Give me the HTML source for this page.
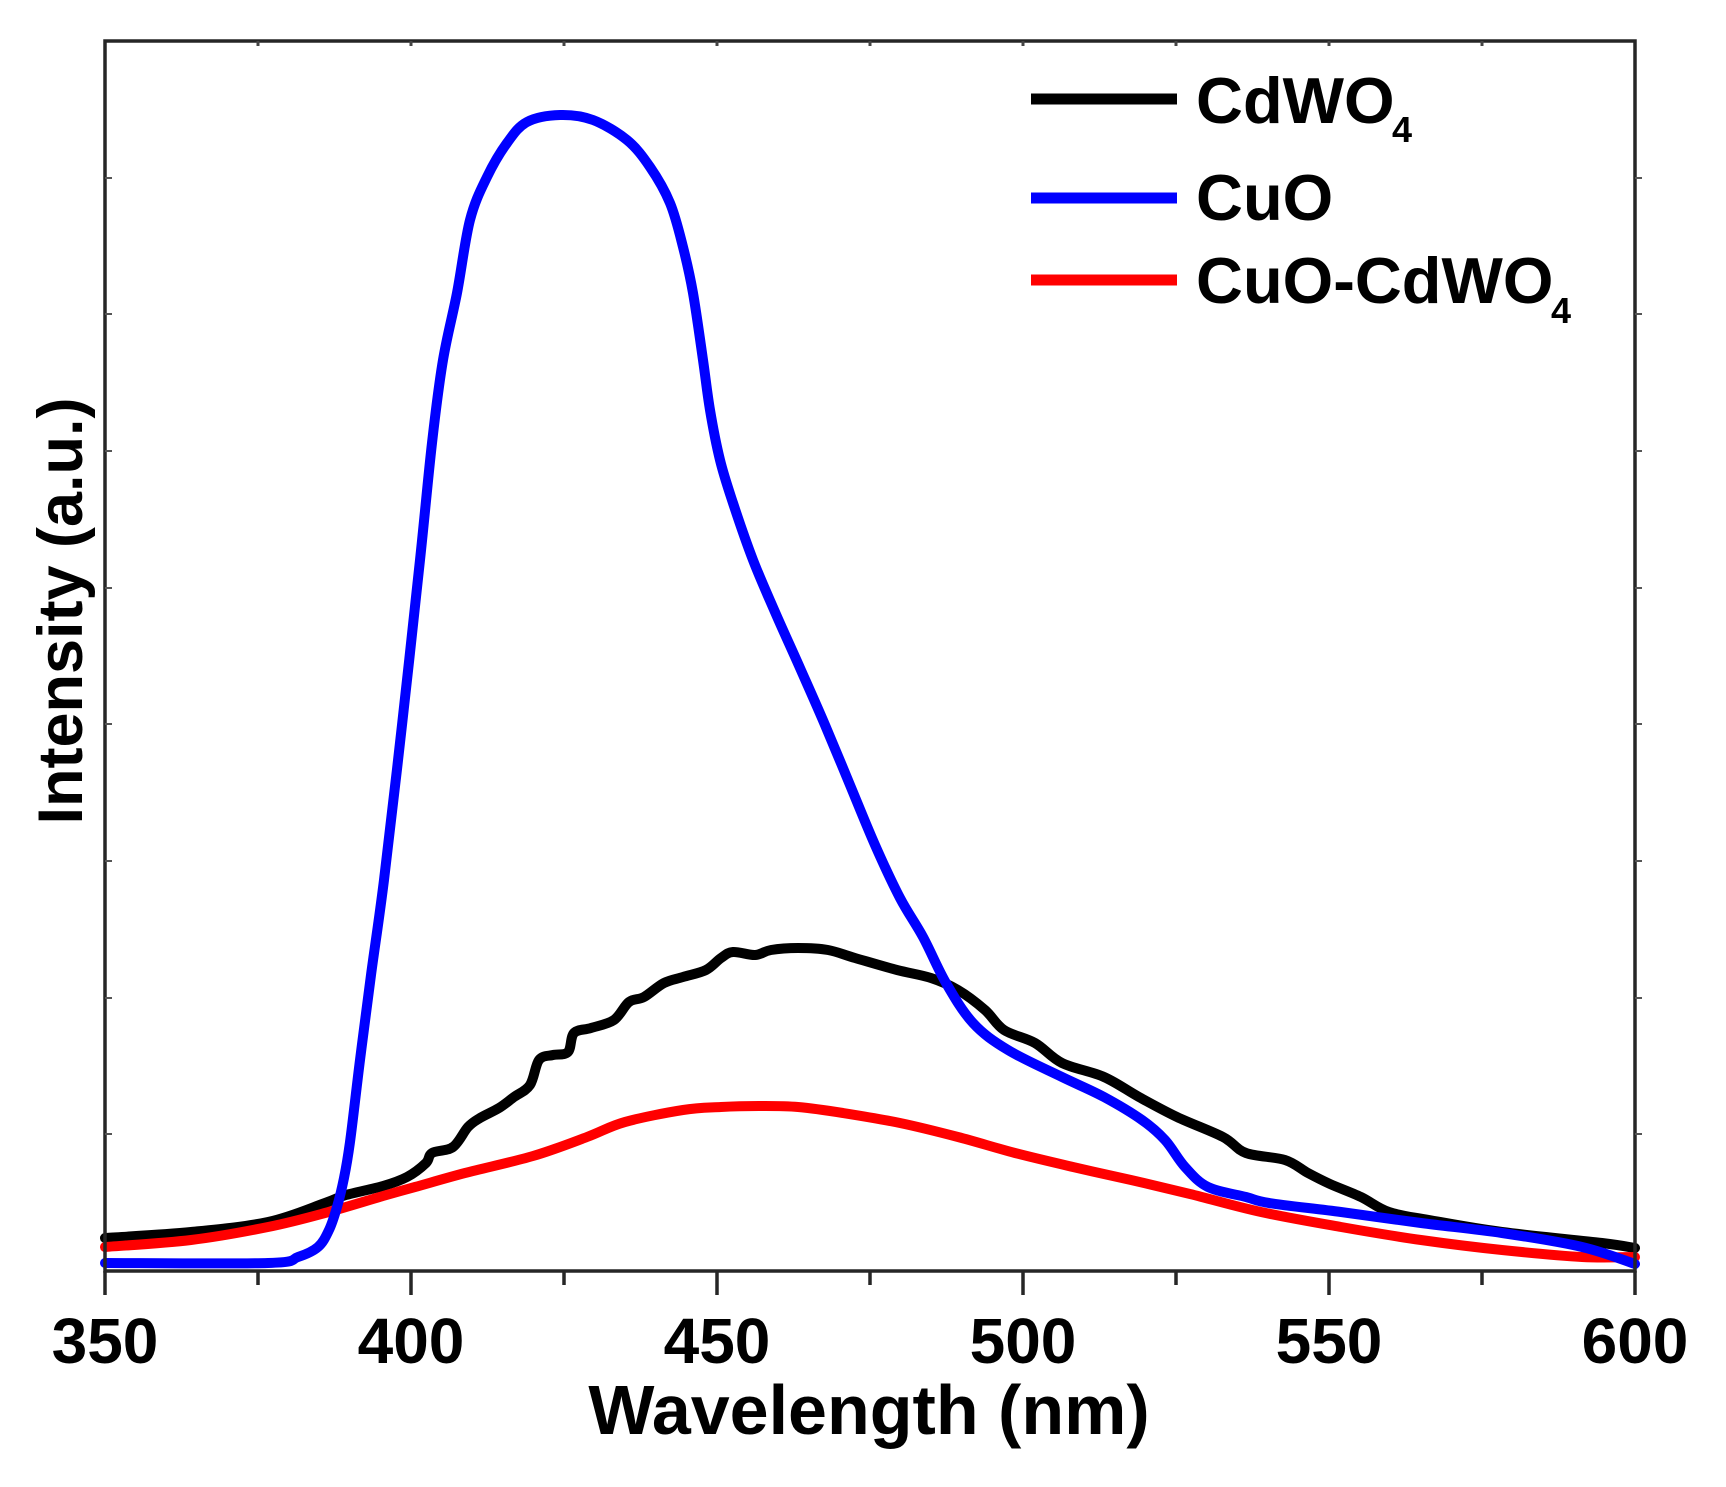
<!DOCTYPE html>
<html>
<head>
<meta charset="utf-8">
<style>
  html,body{margin:0;padding:0;background:#fff;}
  svg{display:block;}
  text{font-family:"Liberation Sans",Arial,sans-serif;font-weight:bold;fill:#000;}
</style>
</head>
<body>
<svg width="1726" height="1487" viewBox="0 0 1726 1487" xmlns="http://www.w3.org/2000/svg">
  <rect x="0" y="0" width="1726" height="1487" fill="#fff"/>

  <!-- curves -->
  <g fill="none" stroke-linejoin="round" stroke-linecap="round">
    <path class="sm" stroke="#000" stroke-width="10" d="M105 1238 L191 1232 L268 1222 L325 1203 L346 1195 L383 1186 L407 1177 L426 1163 L432 1153 L453 1147 L468 1127 L480 1118 L499 1108 L514 1097 L530 1085 L539 1060 L553 1055 L568 1052 L574 1033 L591 1028 L614 1020 L629 1002 L644 997 L664 983 L683 977 L706 970 L721 958 L733 952 L755 955 L771 950 L798 948 L828 950 L855 958 L897 970 L931 978 L958 990 L985 1010 L1004 1030 L1035 1043 L1062 1063 L1104 1077 L1139 1097 L1177 1117 L1223 1137 L1246 1153 L1285 1160 L1308 1173 L1330 1184 L1361 1197 L1389 1212 L1429 1220 L1502 1232 L1602 1243 L1635 1248"/>
    <path class="sm" stroke="#ff0000" stroke-width="10" d="M105 1247 L191 1240 L268 1227 L325 1213 L383 1196 L415 1187 L465 1173 L533 1156 L587 1137 L625 1122 L683 1110 L721 1107 L759 1106 L798 1107 L843 1113 L900 1123 L958 1137 L1015 1153 L1073 1167 L1131 1180 L1190 1194 L1261 1212 L1341 1227 L1421 1240 L1502 1250 L1582 1257 L1635 1257"/>
    <path class="sm" stroke="#0000ff" stroke-width="10" d="M105 1263 L268 1263 L298 1257 L318 1247 L329 1230 L337 1207 L344 1178 L350 1142 L360 1060 L371 975 L384 880 L402 725 L420 560 L432 443 L443 360 L457 293 L470 220 L487 177 L507 143 L527 122 L560 115 L593 120 L627 140 L650 167 L670 203 L683 247 L693 293 L703 360 L710 410 L720 460 L733 503 L753 560 L775 612 L800 668 L825 725 L850 785 L875 845 L900 898 L923 937 L946 983 L973 1023 L1008 1050 L1062 1077 L1104 1097 L1142 1120 L1165 1140 L1185 1167 L1208 1187 L1246 1197 L1269 1203 L1341 1212 L1421 1223 L1502 1233 L1582 1247 L1635 1264"/>
  </g>

  <!-- axes frame -->
  <rect x="105" y="41" width="1530" height="1230" fill="none" stroke="#262626" stroke-width="3.5"/>

  <!-- bottom ticks -->
  <g stroke="#262626" stroke-width="3.5">
    <line x1="105" y1="1271" x2="105" y2="1295"/>
    <line x1="411" y1="1271" x2="411" y2="1295"/>
    <line x1="717" y1="1271" x2="717" y2="1295"/>
    <line x1="1023" y1="1271" x2="1023" y2="1295"/>
    <line x1="1329" y1="1271" x2="1329" y2="1295"/>
    <line x1="1635" y1="1271" x2="1635" y2="1295"/>
    <line x1="258" y1="1271" x2="258" y2="1285"/>
    <line x1="564" y1="1271" x2="564" y2="1285"/>
    <line x1="870" y1="1271" x2="870" y2="1285"/>
    <line x1="1176" y1="1271" x2="1176" y2="1285"/>
    <line x1="1482" y1="1271" x2="1482" y2="1285"/>
  </g>
  <!-- top ticks (small, inward) -->
  <g stroke="#444" stroke-width="3">
    <line x1="258" y1="41" x2="258" y2="46"/>
    <line x1="411" y1="41" x2="411" y2="46"/>
    <line x1="564" y1="41" x2="564" y2="46"/>
    <line x1="717" y1="41" x2="717" y2="46"/>
    <line x1="870" y1="41" x2="870" y2="46"/>
    <line x1="1023" y1="41" x2="1023" y2="46"/>
    <line x1="1176" y1="41" x2="1176" y2="46"/>
    <line x1="1329" y1="41" x2="1329" y2="46"/>
    <line x1="1482" y1="41" x2="1482" y2="46"/>
  </g>
  <!-- left / right ticks -->
  <g stroke="#555" stroke-width="2">
    <line x1="105" y1="1134" x2="112" y2="1134"/>
    <line x1="105" y1="998" x2="112" y2="998"/>
    <line x1="105" y1="861" x2="112" y2="861"/>
    <line x1="105" y1="724" x2="112" y2="724"/>
    <line x1="105" y1="588" x2="112" y2="588"/>
    <line x1="105" y1="451" x2="112" y2="451"/>
    <line x1="105" y1="314" x2="112" y2="314"/>
    <line x1="105" y1="178" x2="112" y2="178"/>
    <line x1="1635" y1="1134" x2="1642" y2="1134"/>
    <line x1="1635" y1="998" x2="1642" y2="998"/>
    <line x1="1635" y1="861" x2="1642" y2="861"/>
    <line x1="1635" y1="724" x2="1642" y2="724"/>
    <line x1="1635" y1="588" x2="1642" y2="588"/>
    <line x1="1635" y1="451" x2="1642" y2="451"/>
    <line x1="1635" y1="314" x2="1642" y2="314"/>
    <line x1="1635" y1="178" x2="1642" y2="178"/>
  </g>

  <!-- tick labels -->
  <g font-size="64" text-anchor="middle">
    <text x="105" y="1363">350</text>
    <text x="411" y="1363">400</text>
    <text x="717" y="1363">450</text>
    <text x="1023" y="1363">500</text>
    <text x="1329" y="1363">550</text>
    <text x="1635" y="1363">600</text>
  </g>

  <!-- axis titles -->
  <text x="869" y="1434" font-size="70" text-anchor="middle">Wavelength (nm)</text>
  <text x="0" y="0" font-size="63" text-anchor="middle" transform="translate(82,611) rotate(-90)">Intensity (a.u.)</text>

  <!-- legend -->
  <g stroke-width="11">
    <line x1="1031" y1="99" x2="1177" y2="99" stroke="#000"/>
    <line x1="1031" y1="198" x2="1177" y2="198" stroke="#0000ff"/>
    <line x1="1031" y1="280" x2="1177" y2="280" stroke="#ff0000"/>
  </g>
  <text x="1196" y="123" font-size="65">CdWO</text>
  <text x="1392" y="142" font-size="36">4</text>
  <text x="1196" y="220" font-size="65">CuO</text>
  <text x="1196" y="303" font-size="65">CuO-CdWO</text>
  <text x="1551" y="323" font-size="36">4</text>
</svg>
<script>
(function(){
  var paths=document.querySelectorAll('path.sm');
  for(var k=0;k<paths.length;k++){
    var p=paths[k];
    var nums=p.getAttribute('d').match(/-?\d+(\.\d+)?/g).map(Number);
    var pts=[];
    for(var i=0;i<nums.length;i+=2)pts.push([nums[i],nums[i+1]]);
    if(pts.length<3)continue;
    var d='M'+pts[0][0]+' '+pts[0][1];
    for(var i=0;i<pts.length-1;i++){
      var p0=pts[i>0?i-1:i],p1=pts[i],p2=pts[i+1],p3=pts[i+2<pts.length?i+2:i+1];
      var c1x=p1[0]+(p2[0]-p0[0])/6,c1y=p1[1]+(p2[1]-p0[1])/6;
      var c2x=p2[0]-(p3[0]-p1[0])/6,c2y=p2[1]-(p3[1]-p1[1])/6;
      d+=' C'+c1x.toFixed(1)+' '+c1y.toFixed(1)+' '+c2x.toFixed(1)+' '+c2y.toFixed(1)+' '+p2[0]+' '+p2[1];
    }
    p.setAttribute('d',d);
  }
})();
</script>
</body>
</html>
